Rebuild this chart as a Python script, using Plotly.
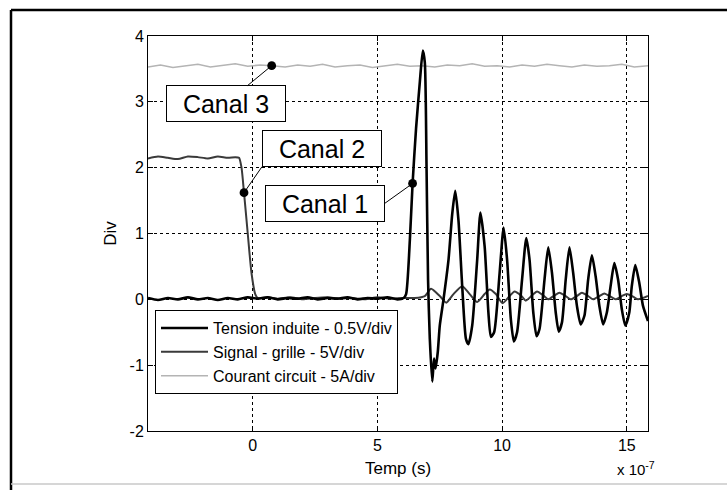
import plotly.graph_objects as go

# time in units of 1e-7 s
t1 = [-4.2,-3.8,-3.4,-3.0,-2.6,-2.2,-1.8,-1.4,-1.0,-0.6,-0.2,0.2,0.6,1.0,1.4,1.8,2.2,2.6,3.0,3.4,3.8,4.2,4.6,5.0,5.4,5.8,6.05,
      6.15,6.3,6.41,6.55,6.7,6.82,6.9,6.97,7.03,7.1,7.2,7.27,7.33,7.42,7.5,7.65,7.85,8.0,8.12,8.25,8.4,8.55,8.65,8.8,
      9.0,9.13,9.3,9.45,9.55,9.68,9.9,10.06,10.2,10.35,10.47,10.6,10.8,10.97,11.1,11.25,11.38,11.5,11.7,11.85,12.0,
      12.15,12.27,12.4,12.55,12.7,12.85,13.0,13.15,13.3,13.45,13.6,13.75,13.9,14.05,14.2,14.35,14.5,14.65,14.8,14.94,
      15.1,15.2,15.34,15.5,15.65,15.85]
v1 = [0.02,-0.01,0.02,0.0,0.03,0.0,0.02,-0.01,0.02,0.0,0.03,0.01,0.03,0.0,0.02,0.01,0.03,0.0,0.02,0.01,0.03,0.0,0.02,0.01,0.03,0.0,0.02,
      0.08,0.9,1.76,2.6,3.3,3.78,3.6,2.0,0.3,-0.6,-1.25,-0.9,-1.05,-0.8,-0.4,0.0,0.6,1.3,1.65,1.2,0.2,-0.6,-0.68,-0.4,
      0.6,1.32,0.8,-0.2,-0.57,-0.5,0.4,1.09,0.6,-0.3,-0.64,-0.5,0.3,0.93,0.6,-0.2,-0.56,-0.45,0.3,0.79,0.4,
      -0.2,-0.49,-0.35,0.3,0.79,0.4,-0.1,-0.38,-0.25,0.3,0.67,0.35,-0.1,-0.38,-0.2,0.2,0.55,0.3,-0.15,-0.4,
      -0.2,0.2,0.52,0.25,-0.1,-0.33]

t2 = [-4.2,-3.8,-3.4,-3.0,-2.6,-2.2,-1.8,-1.4,-1.0,-0.7,-0.55,-0.45,-0.35,-0.2,-0.05,0.1,0.2,0.6,1.0,1.5,2.0,2.5,3.0,
      3.5,4.0,4.5,5.0,5.5,6.0,6.5,6.9,7.15,7.5,7.76,8.05,8.4,8.7,9.0,9.3,9.5,9.75,10.02,10.3,10.5,10.75,10.95,11.2,
      11.4,11.65,11.85,12.1,12.3,12.55,12.75,13.0,13.2,13.45,13.65,13.9,14.1,14.35,14.55,14.8,15.0,15.25,15.45,15.85]
v2 = [2.14,2.17,2.15,2.13,2.17,2.16,2.14,2.17,2.15,2.16,2.15,2.0,1.62,1.0,0.4,0.08,0.02,0.03,0.01,0.03,0.0,0.02,0.03,
      0.01,0.02,0.0,0.03,0.01,0.02,0.02,0.05,0.16,0.05,-0.05,0.08,0.2,0.08,-0.04,0.08,0.15,0.08,-0.06,0.05,0.12,0.06,-0.02,0.06,
      0.12,0.06,0.0,0.06,0.1,0.05,0.0,0.05,0.1,0.05,0.0,0.05,0.09,0.04,0.0,0.05,0.08,0.04,0.0,0.05]

t3 = [-4.2,-3.7,-3.2,-2.7,-2.2,-1.7,-1.2,-0.7,-0.2,0.3,0.76,1.3,1.8,2.3,2.8,3.3,3.8,4.3,4.8,5.3,5.8,6.3,6.8,7.3,7.8,
      8.3,8.8,9.3,9.8,10.3,10.8,11.3,11.8,12.3,12.8,13.3,13.8,14.3,14.8,15.3,15.85]
v3 = [3.53,3.56,3.52,3.55,3.57,3.53,3.55,3.58,3.54,3.56,3.55,3.53,3.56,3.54,3.57,3.53,3.55,3.56,3.52,3.55,3.57,3.54,3.55,
      3.53,3.56,3.55,3.58,3.54,3.55,3.53,3.56,3.54,3.57,3.55,3.53,3.56,3.54,3.55,3.57,3.53,3.55]

names = ["Tension induite - 0.5V/div", "Signal - grille - 5V/div", "Courant circuit - 5A/div"]
x_ticks = [0, 5, 10, 15]
y_ticks = [-2, -1, 0, 1, 2, 3, 4]

FONT = "Arial, Liberation Sans, sans-serif"

fig = go.Figure()
fig.add_trace(go.Scatter(x=t3, y=v3, mode="lines", name=names[2], legendrank=3,
                         line=dict(color="#b4b4b4", width=1.5)))
fig.add_trace(go.Scatter(x=t2, y=v2, mode="lines", name=names[1], legendrank=2,
                         line=dict(color="#3a3a3a", width=2, shape="spline", smoothing=0.6)))
fig.add_trace(go.Scatter(x=t1, y=v1, mode="lines", name=names[0], legendrank=1,
                         line=dict(color="#000000", width=2.6, shape="spline", smoothing=0.6)))

ann_common = dict(showarrow=True, arrowhead=6, arrowsize=2.2, arrowwidth=1, arrowcolor="black",
                  bgcolor="white", bordercolor="black", borderwidth=1, width=116, height=33,
                  font=dict(family=FONT, size=25, color="black"), xref="x", yref="y")
fig.add_annotation(x=t3[10], y=v3[10], text="Canal 3", ax=-46, ay=38, **ann_common)
fig.add_annotation(x=t2[12], y=v2[12], text="Canal 2", ax=18, ay=-26, xanchor="left", yanchor="bottom", **ann_common)
fig.add_annotation(x=t1[29], y=v1[29], text="Canal 1", ax=-28, ay=20, xanchor="right", yanchor="middle", **ann_common)

fig.add_annotation(x=0.976, y=-0.066, xref="paper", yref="paper", showarrow=False,
                   xanchor="center", yanchor="top",
                   text="x 10<sup>-7</sup>", font=dict(family=FONT, size=15, color="black"))

# outer frame of the figure
fig.add_shape(type="line", xref="paper", yref="paper", x0=-0.274, x1=1.16, y0=1.066, y1=1.066,
              line=dict(color="black", width=2.5))
fig.add_shape(type="line", xref="paper", yref="paper", x0=-0.274, x1=-0.274, y0=1.066, y1=-0.16,
              line=dict(color="black", width=2.5))
fig.add_shape(type="line", xref="paper", yref="paper", x0=-0.274, x1=1.16, y0=-0.134, y1=-0.134,
              line=dict(color="#c8c8c8", width=1.5))

axis_common = dict(showline=True, linecolor="black", linewidth=1, mirror="allticks",
                   ticks="inside", ticklen=5, tickcolor="black",
                   showgrid=True, gridcolor="black", gridwidth=1, griddash="dot",
                   zeroline=False, tickfont=dict(family=FONT, size=16, color="black"))

fig.update_xaxes(range=[-4.2, 15.85], tickvals=x_ticks, ticktext=[str(v) for v in x_ticks],
                 title=dict(text="Temp (s)", font=dict(family=FONT, size=17, color="black"), standoff=8),
                 **axis_common)
fig.update_yaxes(range=[-2, 4], tickvals=y_ticks, ticktext=[str(v) for v in y_ticks],
                 title=dict(text="Div", font=dict(family=FONT, size=17, color="black"), standoff=8),
                 **axis_common)

fig.update_layout(
    width=727, height=490,
    margin=dict(l=148, r=79, t=36, b=59),
    paper_bgcolor="white", plot_bgcolor="white",
    showlegend=True,
    legend=dict(x=0.014, y=0.306, xanchor="left", yanchor="top",
                bgcolor="white", bordercolor="black", borderwidth=1,
                font=dict(family=FONT, size=16, color="black"),
                tracegroupgap=0, itemwidth=47),
    font=dict(family=FONT, color="black"),
)

fig.write_html("out.html")
